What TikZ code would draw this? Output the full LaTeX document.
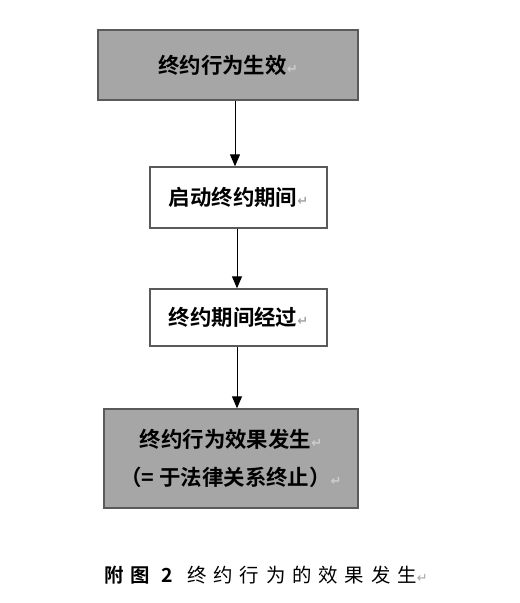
\documentclass[tikz,border=0pt]{standalone}
\usepackage{fontspec}
\newfontfamily\cjk{Noto Sans CJK SC}[BoldFont={Noto Sans CJK SC Bold}]
\newfontfamily\markfont{DejaVu Sans}
\usepackage{xcolor}
\definecolor{boxgray}{RGB}{166, 166, 166}
\definecolor{framegray}{RGB}{90, 90, 90}
\definecolor{markgray}{RGB}{165, 165, 165}
\definecolor{marklight}{RGB}{205, 205, 205}
\usetikzlibrary{arrows.meta, positioning}
\newcommand{\pmark}[1][markgray]{\textcolor{#1}{\markfont\fontsize{13}{13}\selectfont ↵}}
\tikzset{
    stepbox/.style={draw=framegray, line width=1.4bp, fill=white, inner sep=0pt,
        align=center, font=\cjk\bfseries\fontsize{21.5}{26}\selectfont},
    graybox/.style={stepbox, fill=boxgray},
    flow/.style={-{Triangle[width=10bp,length=12bp]}, line width=1bp, black}
}
\begin{document}
\begin{tikzpicture}[x=1bp, y=-1bp]
    \useasboundingbox (0,0) rectangle (520,603);
    % boxes
    \node[graybox, minimum width=260bp, minimum height=70bp] (effect) at (228,65) {终约行为生效\pmark[marklight]};
    \node[stepbox, minimum width=177bp, minimum height=61bp] (start) at (238.5,197.5) {启动终约期间\pmark};
    \node[stepbox, minimum width=177bp, minimum height=57bp] (pass) at (238.5,317.5) {终约期间经过\pmark};
    \node[graybox, minimum width=254bp, minimum height=99bp] (result) at (231,458.5)
        {终约行为效果发生\pmark[marklight]\\[12bp]（= 于法律关系终止）\pmark[marklight]};
    % arrows
    \draw[flow] (effect.south -| 235,0) -- (start.north -| 235,0);
    \draw[flow] (start.south -| 237,0) -- (pass.north -| 237,0);
    \draw[flow] (pass.south -| 237,0) -- (result.north -| 237,0);
    % caption
    \node[font=\cjk\fontsize{19.5}{22}\selectfont\addfontfeature{LetterSpace=35}] (caption) at (266,575)
        {\textbf{附图 2}\hspace{8bp}终约行为的效果发生\pmark};
\end{tikzpicture}
\end{document}
